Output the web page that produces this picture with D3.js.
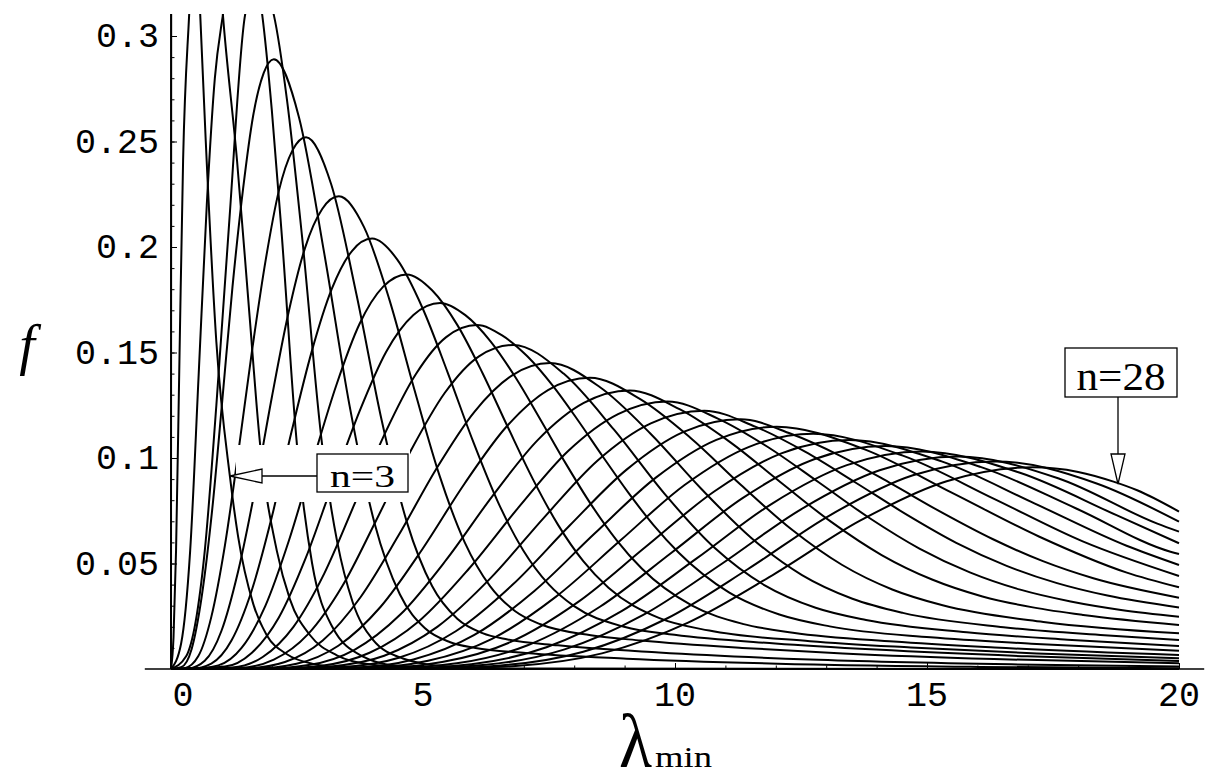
<!DOCTYPE html>
<html>
<head>
<meta charset="utf-8">
<script src="https://cdn.jsdelivr.net/npm/d3@7"></script>
<style>
  body { margin: 0; background: #fff; }
  svg { display: block; }
</style>
</head>
<body>
<div id="chart"></div>
<script>
// density curves of the smallest eigenvalue, one per n ([lambda, f] points)
const nValues = [3, 4, 5, 6, 7, 8, 9, 10, 11, 12, 13, 14, 15, 16, 17, 18, 19, 20, 21, 22, 23, 24, 25, 26, 27, 28];

const f3 = [[0, 0], [0.01, 0.9], [0.03, 1.2], [0.1, 0.85], [0.2, 0.6], [0.35, 0.42], [0.58, 0.31], [0.69, 0.25], [0.9, 0.155], [1.17, 0.091], [1.33, 0.063], [1.63, 0.031], [1.9, 0.016], [2.3, 0.007], [2.8, 0.0025], [3.5, 0.0006], [5, 0], [20, 0]];
const f4 = [[0, 0], [0.05, 0.015], [0.1, 0.056], [0.17, 0.15], [0.24, 0.241], [0.36, 0.31], [0.5, 0.37], [0.68, 0.395], [0.85, 0.37], [1.03, 0.31], [1.31, 0.241], [1.55, 0.17], [1.77, 0.106], [2.1, 0.056], [2.36, 0.033], [2.76, 0.016], [3.29, 0.0065], [4, 0.002], [5, 0.0005], [7, 0], [20, 0]];
const f5 = [[0, 0], [0.2, 0.012], [0.38, 0.056], [0.55, 0.14], [0.71, 0.22], [0.87, 0.28], [1.03, 0.31], [1.2, 0.335], [1.4, 0.345], [1.6, 0.337], [1.81, 0.31], [2, 0.265], [2.2, 0.205], [2.5, 0.106], [2.8, 0.05], [3.2, 0.02], [3.8, 0.006], [4.5, 0.0015], [6, 0], [20, 0]];
const f6 = [[0, 0], [0.3, 0.006], [0.67, 0.056], [0.9, 0.125], [1.15, 0.21], [1.47, 0.31], [1.72, 0.327], [2.04, 0.31], [2.3, 0.27], [2.6, 0.205], [3, 0.106], [3.3, 0.06], [3.6, 0.032], [4, 0.014], [4.6, 0.005], [5.5, 0.0012], [7, 0.0002], [20, 0]];
const f7 = [[0, 0], [0.2, 0.0008], [0.41, 0.0095], [0.61, 0.0344], [0.82, 0.0761], [1.02, 0.1279], [1.22, 0.1811], [1.43, 0.2275], [1.63, 0.2622], [1.84, 0.2825], [2.04, 0.289], [2.54, 0.2614], [3.04, 0.1971], [3.54, 0.1252], [4.04, 0.069], [4.54, 0.0354], [5.04, 0.0193], [5.54, 0.0127], [6.04, 0.01], [7.04, 0.0076], [9.04, 0.0049], [12.04, 0.0025], [16.04, 0.001], [20, 0.0004]];
const f8 = [[0, 0], [0.27, 0.0004], [0.54, 0.006], [0.8, 0.0247], [1.07, 0.0586], [1.34, 0.1035], [1.61, 0.1512], [1.88, 0.194], [2.14, 0.2266], [2.41, 0.2458], [2.68, 0.252], [3.18, 0.2296], [3.68, 0.1775], [4.18, 0.1179], [4.68, 0.0696], [5.18, 0.0393], [5.68, 0.0238], [6.18, 0.017], [6.68, 0.014], [7.68, 0.0112], [9.68, 0.0078], [12.68, 0.0045], [16.68, 0.0022], [20, 0.0012]];
const f9 = [[0, 0], [0.33, 0.0002], [0.67, 0.0039], [1, 0.018], [1.33, 0.0461], [1.67, 0.0853], [2, 0.1287], [2.33, 0.1687], [2.66, 0.1996], [3, 0.218], [3.33, 0.224], [3.83, 0.2094], [4.33, 0.1753], [4.83, 0.1323], [5.33, 0.0915], [5.83, 0.0599], [6.33, 0.0393], [6.83, 0.0274], [7.33, 0.0212], [8.33, 0.016], [9.33, 0.0135], [11.33, 0.01], [13.33, 0.0074], [16.33, 0.0047], [20, 0.0027]];
const f10 = [[0, 0], [0.4, 0.0001], [0.8, 0.0026], [1.2, 0.0135], [1.6, 0.0371], [2, 0.072], [2.39, 0.1123], [2.79, 0.1503], [3.19, 0.1801], [3.59, 0.1981], [3.99, 0.204], [4.49, 0.194], [4.99, 0.1711], [5.49, 0.1405], [5.99, 0.1081], [6.49, 0.079], [6.99, 0.0562], [7.49, 0.0402], [7.99, 0.0299], [8.99, 0.02], [9.99, 0.0162], [11.99, 0.0121], [13.99, 0.0092], [16.99, 0.006], [20, 0.0038]];
const f11 = [[0, 0], [0.47, 0.00005], [0.94, 0.0017], [1.4, 0.01], [1.87, 0.0298], [2.34, 0.0609], [2.81, 0.0982], [3.28, 0.1345], [3.74, 0.1635], [4.21, 0.1812], [4.68, 0.187], [5.18, 0.1795], [5.68, 0.1631], [6.18, 0.1403], [6.68, 0.1148], [7.18, 0.09], [7.68, 0.0683], [8.18, 0.0511], [8.68, 0.0385], [9.68, 0.0242], [10.68, 0.0182], [12.68, 0.0132], [14.68, 0.0102], [17.18, 0.0074], [20, 0.0051]];
const f12 = [[0, 0], [1.07, 0.00115], [1.6, 0.0076], [2.14, 0.0244], [2.67, 0.0524], [3.2, 0.0873], [3.74, 0.1221], [4.27, 0.1504], [4.81, 0.1678], [5.34, 0.1735], [5.84, 0.1677], [6.34, 0.1553], [6.84, 0.138], [7.34, 0.1178], [7.84, 0.0971], [8.34, 0.0778], [8.84, 0.0611], [9.34, 0.0476], [10.34, 0.03], [11.34, 0.0214], [12.34, 0.0172], [14.34, 0.013], [16.34, 0.0102], [20, 0.0066]];
const f13 = [[0, 0], [1.21, 0.00075], [1.82, 0.0057], [2.43, 0.02], [3.04, 0.0452], [3.64, 0.0781], [4.25, 0.1119], [4.86, 0.1398], [5.46, 0.1573], [6.07, 0.163], [6.57, 0.1581], [7.07, 0.1482], [7.57, 0.1344], [8.07, 0.118], [8.57, 0.1006], [9.07, 0.0837], [9.57, 0.0683], [10.07, 0.0552], [11.07, 0.0363], [12.07, 0.0258], [13.07, 0.0202], [15.07, 0.015], [17.07, 0.012], [20, 0.0087]];
const f14 = [[0, 0], [1.36, 0.0005], [2.04, 0.0044], [2.72, 0.0165], [3.4, 0.0393], [4.07, 0.0704], [4.75, 0.1031], [5.43, 0.1308], [6.11, 0.1482], [6.79, 0.1536], [7.79, 0.14], [8.79, 0.1134], [9.79, 0.0831], [10.79, 0.0573], [11.79, 0.0395], [12.79, 0.029], [13.79, 0.0232], [15.79, 0.0174], [17.79, 0.0139], [20, 0.0109]];
const f15 = [[0, 0], [1.5, 0.00033], [2.26, 0.0033], [3.01, 0.0135], [3.76, 0.034], [4.51, 0.0631], [5.26, 0.0947], [6.02, 0.1219], [6.77, 0.1392], [7.52, 0.145], [8.52, 0.1334], [9.52, 0.1114], [10.52, 0.0854], [11.52, 0.062], [12.52, 0.0445], [13.52, 0.0333], [14.52, 0.0266], [16.52, 0.0198], [18.52, 0.016], [20, 0.0137]];
const f16 = [[0, 0], [1.66, 0.00021], [2.49, 0.00246], [3.32, 0.011], [4.16, 0.0295], [4.99, 0.0569], [5.82, 0.0877], [6.65, 0.1147], [7.48, 0.1322], [8.31, 0.138], [9.31, 0.1279], [10.31, 0.1095], [11.31, 0.0872], [12.31, 0.0662], [13.31, 0.0494], [14.31, 0.0377], [15.31, 0.0302], [17.31, 0.0223], [20, 0.0169]];
const f17 = [[0, 0], [1.82, 0.00014], [2.73, 0.00186], [3.64, 0.0091], [4.55, 0.0258], [5.46, 0.0517], [6.37, 0.0817], [7.28, 0.1086], [8.19, 0.1261], [9.1, 0.132], [10.1, 0.123], [11.1, 0.1074], [12.1, 0.0884], [13.1, 0.0697], [14.1, 0.054], [15.1, 0.0424], [16.1, 0.0344], [17.1, 0.0292], [18.1, 0.0256], [20, 0.0209]];
const f18 = [[0, 0], [1.97, 0.0001], [2.96, 0.00146], [3.94, 0.0077], [4.93, 0.0229], [5.91, 0.0475], [6.9, 0.0767], [7.88, 0.1033], [8.87, 0.1208], [9.85, 0.1268], [10.85, 0.1187], [11.85, 0.1051], [12.85, 0.0885], [13.85, 0.0717], [14.85, 0.0571], [15.85, 0.0458], [16.85, 0.0376], [17.85, 0.032], [18.85, 0.028], [20, 0.0248]];
const f19 = [[0, 0], [2.12, 0.00006], [3.17, 0.00124], [4.23, 0.0063], [5.29, 0.0201], [6.35, 0.0433], [7.41, 0.072], [8.46, 0.0987], [9.52, 0.1164], [10.58, 0.1224], [11.58, 0.115], [12.58, 0.103], [13.58, 0.0884], [14.58, 0.0734], [15.58, 0.0598], [16.58, 0.0489], [17.58, 0.0407], [18.58, 0.0348], [20, 0.0292]];
const f20 = [[0, 0], [2.26, 0.00005], [3.39, 0.00089], [4.52, 0.0053], [5.65, 0.0179], [6.78, 0.04], [7.91, 0.068], [9.04, 0.0945], [10.17, 0.1124], [11.3, 0.1184], [12.3, 0.1115], [13.3, 0.1008], [14.3, 0.0877], [15.3, 0.0741], [16.3, 0.0616], [17.3, 0.0511], [18.3, 0.043], [20, 0.0338]];
const f21 = [[0, 0], [3.61, 0.00067], [4.81, 0.0045], [6.01, 0.016], [7.21, 0.037], [8.41, 0.0643], [9.62, 0.0907], [10.82, 0.1086], [12.02, 0.1148], [13.75, 0.1042], [15.49, 0.0836], [17.22, 0.0628], [18.95, 0.0458], [20, 0.0387]];
const f22 = [[0, 0], [3.82, 0.00052], [5.1, 0.0039], [6.37, 0.0143], [7.64, 0.0343], [8.92, 0.061], [10.19, 0.0872], [11.47, 0.1053], [12.74, 0.1115], [14.52, 0.1011], [16.31, 0.0809], [18.09, 0.0605], [20, 0.0441]];
const f23 = [[0, 0], [4.04, 0.0004], [5.38, 0.0033], [6.73, 0.0127], [8.08, 0.0318], [9.42, 0.0579], [10.77, 0.084], [12.11, 0.1022], [13.46, 0.1085], [15.29, 0.0984], [17.13, 0.0785], [18.96, 0.0584], [20, 0.0493]];
const f24 = [[0, 0], [4.25, 0.0003], [5.67, 0.0027], [7.09, 0.0114], [8.51, 0.0295], [9.93, 0.0551], [11.34, 0.081], [12.76, 0.0994], [14.18, 0.1057], [16.06, 0.0958], [17.95, 0.0762], [19.83, 0.0556], [20, 0.0545]];
const f25 = [[0, 0], [4.47, 0.00025], [5.96, 0.0023], [7.45, 0.0103], [8.94, 0.0274], [10.43, 0.0524], [11.92, 0.0783], [13.41, 0.0966], [14.9, 0.1031], [16.83, 0.0931], [18.76, 0.0729], [20, 0.0596]];
const f26 = [[0, 0], [4.69, 0.0002], [6.25, 0.002], [7.81, 0.0093], [9.37, 0.0256], [10.93, 0.0499], [12.5, 0.0757], [14.06, 0.0942], [15.62, 0.1007], [17.6, 0.0904], [19.57, 0.0689], [20, 0.0651]];
const f27 = [[0, 0], [4.91, 0.00015], [6.54, 0.0017], [8.18, 0.0082], [9.82, 0.0237], [11.45, 0.0474], [13.09, 0.0731], [14.72, 0.0918], [16.36, 0.0984], [18.38, 0.0878], [20, 0.0698]];
const f28 = [[0, 0], [5.13, 0.00012], [6.84, 0.00145], [8.55, 0.0074], [10.26, 0.022], [11.97, 0.045], [13.68, 0.0704], [15.39, 0.089], [17.1, 0.0956], [18, 0.0934], [18.7, 0.0888], [19.17, 0.0847], [20, 0.0746]];

const curves = [f3, f4, f5, f6, f7, f8, f9, f10, f11, f12, f13, f14, f15, f16, f17, f18, f19, f20, f21, f22, f23, f24, f25, f26, f27, f28];

const xTicks = [0, 5, 10, 15, 20];
const xTickLabels = ['0', '5', '10', '15', '20'];
const yTicks = [0.05, 0.1, 0.15, 0.2, 0.25, 0.3];
const yTickLabels = ['0.05', '0.1', '0.15', '0.2', '0.25', '0.3'];

const width = 1210, height = 784;

var svg = d3.select('#chart').append('svg')
    .attr('width', width)
    .attr('height', height);

var x = d3.scaleLinear().domain([0, 20]).range([171, 1179]);
var y = d3.scaleLinear().domain([0, 0.3]).range([669, 36]);
var yTop = 0.3104;

svg.append('defs').append('clipPath').attr('id', 'plotclip')
    .append('rect')
    .attr('x', x(0) - 2)
    .attr('y', y(yTop))
    .attr('width', x(20) - x(0) + 4)
    .attr('height', y(0) - y(yTop) + 2);

//// curves
var line = d3.line()
    .x(d => x(d[0]))
    .y(d => y(d[1]))
    .curve(d3.curveMonotoneX);

svg.append('g')
    .attr('clip-path', 'url(#plotclip)')
    .selectAll('path')
    .data(curves)
    .enter().append('path')
    .attr('d', line)
    .attr('fill', 'none')
    .attr('stroke', '#000')
    .attr('stroke-width', 2);

//// axes
var axisG = svg.append('g').attr('stroke', '#000');

// x axis line runs a bit past both ends
axisG.append('line')
    .attr('x1', x(-0.52)).attr('x2', x(20.5))
    .attr('y1', y(0)).attr('y2', y(0))
    .attr('stroke-width', 1.4);
axisG.append('line')
    .attr('x1', x(0)).attr('x2', x(0))
    .attr('y1', y(0)).attr('y2', y(yTop))
    .attr('stroke-width', 1.4);

var xMinor = d3.axisBottom(x).tickValues(d3.range(0, 21, 1)).tickSize(-3.5).tickFormat('');
var xMajor = d3.axisBottom(x).tickValues(xTicks).tickSize(-6).tickFormat('');
var yMinor = d3.axisRight(y).tickValues(d3.range(1, 31).map(d => d / 100)).tickSize(3.5).tickFormat('');
var yMajor = d3.axisRight(y).tickValues(yTicks).tickSize(6).tickFormat('');

[xMinor, xMajor].forEach(function (ax) {
    var g = svg.append('g').attr('transform', 'translate(0,' + y(0) + ')').call(ax);
    g.select('.domain').remove();
    g.selectAll('line').attr('stroke', '#000').attr('stroke-width', 1);
});
[yMinor, yMajor].forEach(function (ax) {
    var g = svg.append('g').attr('transform', 'translate(' + x(0) + ',0)').call(ax);
    g.select('.domain').remove();
    g.selectAll('line').attr('stroke', '#000').attr('stroke-width', 1);
});

// tick labels
svg.append('g').selectAll('text')
    .data(xTicks)
    .enter().append('text')
    .attr('x', (d, i) => x(d) + (d === 0 ? 12 : 0))
    .attr('y', 706)
    .attr('text-anchor', 'middle')
    .style('font-family', '"Liberation Mono", "Courier New", monospace')
    .style('font-size', '35px')
    .text((d, i) => xTickLabels[i]);

svg.append('g').selectAll('text')
    .data(yTicks)
    .enter().append('text')
    .attr('x', 159)
    .attr('y', d => y(d) + 11)
    .attr('text-anchor', 'end')
    .style('font-family', '"Liberation Mono", "Courier New", monospace')
    .style('font-size', '35px')
    .text((d, i) => yTickLabels[i]);

// axis titles
svg.append('text')
    .attr('x', 27).attr('y', 364)
    .attr('text-anchor', 'middle')
    .style('font-family', '"Liberation Serif", "Times New Roman", serif')
    .style('font-style', 'italic')
    .style('font-size', '56px')
    .text('f');

svg.append('text')
    .attr('x', 619).attr('y', 767)
    .attr('textLength', 33)
    .attr('lengthAdjust', 'spacingAndGlyphs')
    .style('font-family', '"Liberation Serif", "Times New Roman", serif')
    .style('font-size', '76px')
    .text('\u03BB');
svg.append('text')
    .attr('x', 655).attr('y', 767)
    .attr('textLength', 57)
    .attr('lengthAdjust', 'spacingAndGlyphs')
    .style('font-family', '"Liberation Serif", "Times New Roman", serif')
    .style('font-size', '30px')
    .text('min');

//// labels with arrows
// n=3 label sits on a white patch that cuts the curves
svg.append('rect')
    .attr('x', 236).attr('y', 445)
    .attr('width', 174).attr('height', 57)
    .attr('fill', '#fff');

function labelBox(bx, by, bw, bh, txt, fs, tl) {
    svg.append('rect')
        .attr('x', bx).attr('y', by)
        .attr('width', bw).attr('height', bh)
        .attr('fill', '#fff')
        .attr('stroke', '#000')
        .attr('stroke-width', 1.3);
    svg.append('text')
        .attr('x', bx + bw / 2).attr('y', by + bh * 0.86)
        .attr('text-anchor', 'middle')
        .attr('textLength', tl)
        .attr('lengthAdjust', 'spacingAndGlyphs')
        .style('font-family', '"Liberation Serif", "Times New Roman", serif')
        .style('font-size', fs + 'px')
        .text(txt);
}

// n=3 arrow pointing left at its curve
svg.append('line')
    .attr('x1', 317).attr('x2', 262)
    .attr('y1', 476).attr('y2', 476)
    .attr('stroke', '#000').attr('stroke-width', 1.3);
svg.append('path')
    .attr('d', 'M230,476 L262,469 L262,483 Z')
    .attr('fill', '#fff').attr('stroke', '#000').attr('stroke-width', 1.3);
labelBox(317, 454, 91, 38, 'n=3', 32, 65);

// n=28 arrow pointing down at its curve
svg.append('line')
    .attr('x1', 1118).attr('x2', 1118)
    .attr('y1', 397).attr('y2', 454)
    .attr('stroke', '#000').attr('stroke-width', 1.3);
svg.append('path')
    .attr('d', 'M1118,484 L1111,454 L1125,454 Z')
    .attr('fill', '#fff').attr('stroke', '#000').attr('stroke-width', 1.3);
labelBox(1065, 348, 112, 49, 'n=28', 40, 89);
</script>
</body>
</html>
